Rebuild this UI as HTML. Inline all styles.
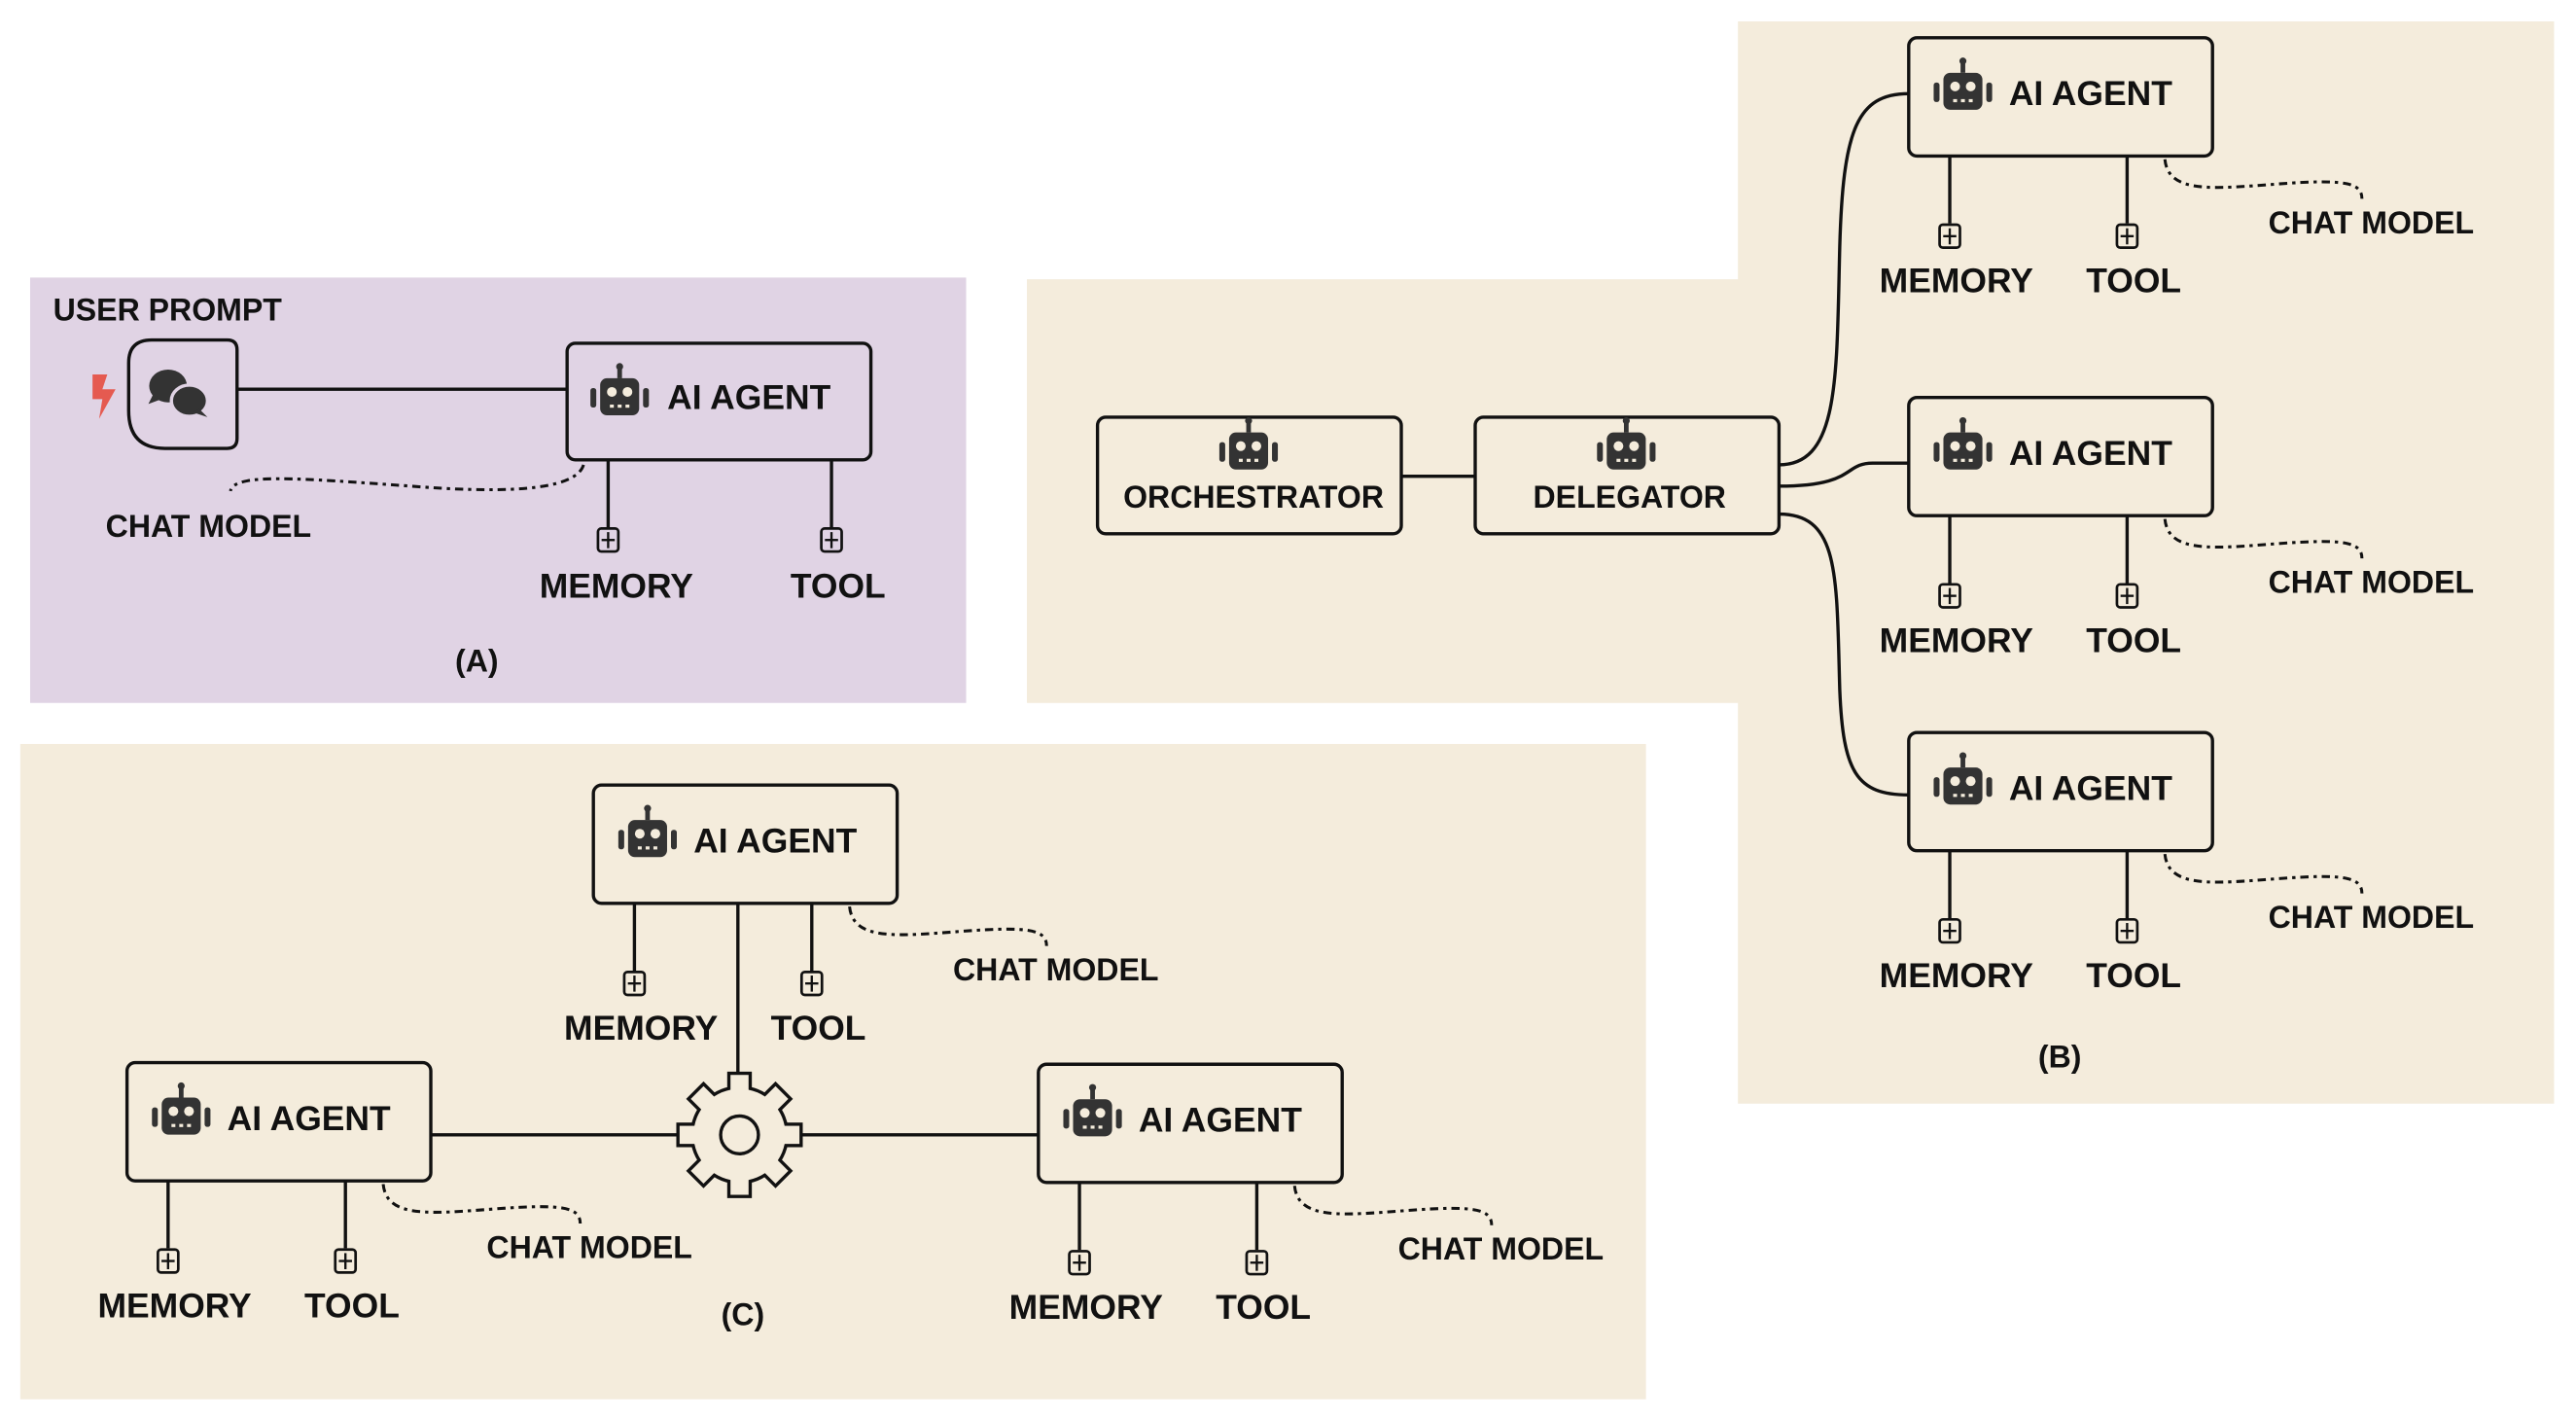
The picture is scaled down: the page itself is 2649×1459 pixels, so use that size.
<!DOCTYPE html>
<html><head><meta charset="utf-8"><style>
html,body{margin:0;padding:0;background:#fff}
svg{display:block}
text{font-family:"Liberation Sans",sans-serif;font-weight:bold;fill:#111}
</style></head><body>
<svg width="2649" height="1459" viewBox="0 0 1568 864" xmlns="http://www.w3.org/2000/svg">
<defs>
<symbol id="bot" viewBox="-16 -16 32 32" overflow="visible">
<rect x="-1.2" y="-15" width="2.4" height="6" fill="#333"/>
<circle cx="0" cy="-15" r="1.8" fill="#333"/>
<rect x="-10" y="-9" width="20" height="19" rx="3.5" fill="#333"/>
<rect x="-15" y="-4" width="3" height="10" rx="1.3" fill="#333"/>
<rect x="12" y="-4" width="3" height="10" rx="1.3" fill="#333"/>
<circle cx="-4" cy="-2" r="2.5" fill="#f4ecdc"/>
<circle cx="4" cy="-2" r="2.5" fill="#f4ecdc"/>
<rect x="-5" y="4.5" width="2" height="1.6" fill="#f4ecdc"/>
<rect x="-1" y="4.5" width="2" height="1.6" fill="#f4ecdc"/>
<rect x="3" y="4.5" width="2" height="1.6" fill="#f4ecdc"/>
</symbol>
<symbol id="plus" viewBox="0 0 14 16" overflow="visible">
<rect x="0.8" y="0.8" width="12.4" height="14" rx="2" fill="none" stroke="#111" stroke-width="1.6"/>
<line x1="7" y1="3" x2="7" y2="12.8" stroke="#111" stroke-width="1.4"/>
<line x1="3" y1="7.8" x2="11" y2="7.8" stroke="#111" stroke-width="1.4"/>
</symbol>
<g id="agent">
<rect x="0" y="0" width="185" height="72" rx="5" fill="#f4ecdc" stroke="#111" stroke-width="2"/>
<use href="#bot" x="14" y="13" width="38" height="38"/>
<text x="61" y="41" font-size="21">AI AGENT</text>
<line x1="25" y1="72" x2="25" y2="113" stroke="#111" stroke-width="2"/>
<line x1="133" y1="72" x2="133" y2="113" stroke="#111" stroke-width="2"/>
<use href="#plus" x="18" y="113" width="14" height="16"/>
<use href="#plus" x="126" y="113" width="14" height="16"/>
<text x="29" y="155" font-size="21" text-anchor="middle">MEMORY</text>
<text x="137" y="155" font-size="21" text-anchor="middle">TOOL</text>
<path d="M156,74 C158,95 185,92 225,89 C265,86 276,88 276,98" fill="none" stroke="#111" stroke-width="1.8" stroke-dasharray="5,3,2,3"/>
<text x="219" y="119" font-size="19">CHAT MODEL</text>
</g>
</defs>

<!-- Panel A -->
<rect x="18" y="169" width="570" height="259" fill="#e0d3e4"/>
<text x="32" y="195" font-size="19">USER PROMPT</text>
<path d="M92,207 H138 Q144,207 144,213 V267 Q144,273 138,273 H100 Q78,273 78,250 V221 Q78,207 92,207 Z" fill="#e0d3e4" stroke="#111" stroke-width="2"/>
<ellipse cx="102" cy="235" rx="11.5" ry="10" fill="#333"/>
<path d="M93,240 l-3,6 l8,-3 z" fill="#333"/>
<ellipse cx="115" cy="244" rx="11" ry="9.5" fill="#333" stroke="#e0d3e4" stroke-width="2"/>
<path d="M121,249 l5,5 l-9,-3 z" fill="#333"/>
<path d="M56,228 h9 l-3,9 h8 l-10,18 l2,-12 h-6 z" fill="#e55a50"/>
<line x1="144" y1="237" x2="345" y2="237" stroke="#111" stroke-width="2"/>
<rect x="345" y="209" width="185" height="71" rx="5" fill="#e0d3e4" stroke="#111" stroke-width="2"/>
<use href="#bot" x="358" y="222" width="38" height="38"/>
<text x="406" y="249" font-size="21">AI AGENT</text>
<line x1="370" y1="280" x2="370" y2="321" stroke="#111" stroke-width="2"/>
<line x1="506" y1="280" x2="506" y2="321" stroke="#111" stroke-width="2"/>
<use href="#plus" x="363" y="321" width="14" height="16"/>
<use href="#plus" x="499" y="321" width="14" height="16"/>
<text x="375" y="364" font-size="21" text-anchor="middle">MEMORY</text>
<text x="510" y="364" font-size="21" text-anchor="middle">TOOL</text>
<path d="M355,283 C350,300 300,300 250,296 C180,291 142,288 140,299" fill="none" stroke="#111" stroke-width="1.8" stroke-dasharray="5,3,2,3"/>
<text x="64" y="327" font-size="19">CHAT MODEL</text>
<text x="290" y="409" font-size="19" text-anchor="middle">(A)</text>

<!-- Panel B -->
<path d="M625,170 H1058 V13 H1555 V672 H1058 V428 H625 Z" fill="#f4ecdc"/>
<rect x="668" y="254" width="185" height="71" rx="5" fill="#f4ecdc" stroke="#111" stroke-width="2"/>
<use href="#bot" x="741" y="255" width="38" height="38"/>
<text x="763" y="309" font-size="19" text-anchor="middle">ORCHESTRATOR</text>
<rect x="898" y="254" width="185" height="71" rx="5" fill="#f4ecdc" stroke="#111" stroke-width="2"/>
<use href="#bot" x="971" y="255" width="38" height="38"/>
<text x="992" y="309" font-size="19" text-anchor="middle">DELEGATOR</text>
<line x1="853" y1="290" x2="898" y2="290" stroke="#111" stroke-width="2"/>
<path d="M1083,283 C1120,283 1118,230 1120,150 C1122,80 1130,57 1162,57" fill="none" stroke="#111" stroke-width="2"/>
<path d="M1083,296 C1130,296 1122,282 1140,282 H1162" fill="none" stroke="#111" stroke-width="2"/>
<path d="M1083,313 C1120,313 1118,350 1120,420 C1122,470 1130,484 1162,484" fill="none" stroke="#111" stroke-width="2"/>
<use href="#agent" transform="translate(1162,23)"/>
<use href="#agent" transform="translate(1162,242)"/>
<use href="#agent" transform="translate(1162,446)"/>
<text x="1254" y="650" font-size="19" text-anchor="middle">(B)</text>

<!-- Panel C -->
<rect x="12" y="453" width="990" height="399" fill="#f4ecdc"/>
<line x1="449" y1="549" x2="449" y2="660" stroke="#111" stroke-width="2"/>
<line x1="262" y1="691" x2="413" y2="691" stroke="#111" stroke-width="2"/>
<line x1="487" y1="691" x2="632" y2="691" stroke="#111" stroke-width="2"/>
<use href="#agent" transform="translate(361,478)"/>
<use href="#agent" transform="translate(77,647)"/>
<use href="#agent" transform="translate(632,648)"/>
<g transform="translate(450,691)">
<g stroke="#111" stroke-width="4" fill="#111">
<circle r="28"/>
<rect x="-5.5" y="-36.5" width="11" height="14" transform="rotate(0)"/>
<rect x="-5.5" y="-36.5" width="11" height="14" transform="rotate(45)"/>
<rect x="-5.5" y="-36.5" width="11" height="14" transform="rotate(90)"/>
<rect x="-5.5" y="-36.5" width="11" height="14" transform="rotate(135)"/>
<rect x="-5.5" y="-36.5" width="11" height="14" transform="rotate(180)"/>
<rect x="-5.5" y="-36.5" width="11" height="14" transform="rotate(225)"/>
<rect x="-5.5" y="-36.5" width="11" height="14" transform="rotate(270)"/>
<rect x="-5.5" y="-36.5" width="11" height="14" transform="rotate(315)"/>
</g>
<g fill="#f4ecdc">
<circle r="28"/>
<rect x="-5.5" y="-36.5" width="11" height="14" transform="rotate(0)"/>
<rect x="-5.5" y="-36.5" width="11" height="14" transform="rotate(45)"/>
<rect x="-5.5" y="-36.5" width="11" height="14" transform="rotate(90)"/>
<rect x="-5.5" y="-36.5" width="11" height="14" transform="rotate(135)"/>
<rect x="-5.5" y="-36.5" width="11" height="14" transform="rotate(180)"/>
<rect x="-5.5" y="-36.5" width="11" height="14" transform="rotate(225)"/>
<rect x="-5.5" y="-36.5" width="11" height="14" transform="rotate(270)"/>
<rect x="-5.5" y="-36.5" width="11" height="14" transform="rotate(315)"/>
</g>
<circle r="11.5" fill="none" stroke="#111" stroke-width="2"/>
</g>
<text x="452" y="807" font-size="19" text-anchor="middle">(C)</text>
</svg>
</body></html>
